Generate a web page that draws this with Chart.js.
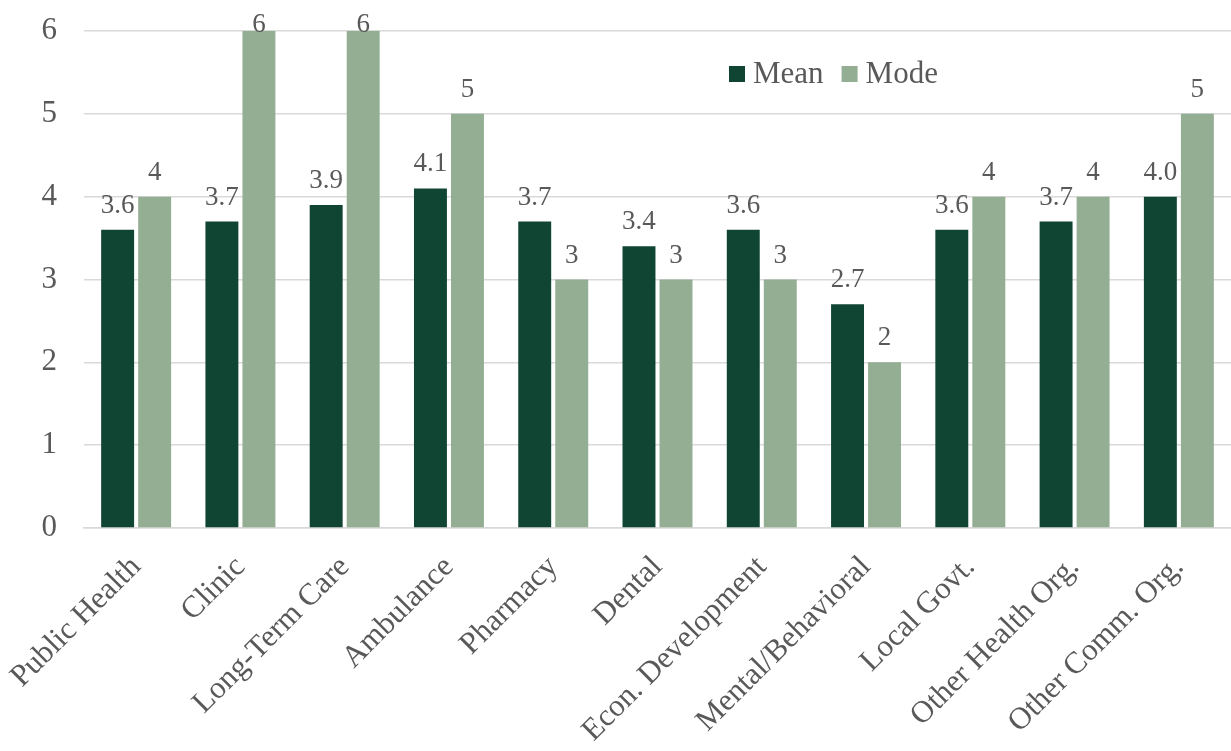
<!DOCTYPE html>
<html>
<head>
<meta charset="utf-8">
<script src="https://cdn.jsdelivr.net/npm/chart.js@4/dist/chart.umd.min.js"></script>
<style>
html,body{margin:0;padding:0;background:#fff;}
#wrap{width:1231px;height:751px;position:relative;}
</style>
</head>
<body>
<div id="wrap"><canvas id="c" width="1231" height="751"></canvas></div>
<script>
const categories = ["Public Health","Clinic","Long-Term Care","Ambulance","Pharmacy","Dental","Econ. Development","Mental/Behavioral","Local Govt.","Other Health Org.","Other Comm. Org."];
const meanValues = [3.6,3.7,3.9,4.1,3.7,3.4,3.6,2.7,3.6,3.7,4.0];
const modeValues = [4,6,6,5,3,3,3,2,4,4,5];
const yTicks = [0,1,2,3,4,5,6];

const FONT = "'Liberation Serif','Times New Roman',serif";
const TXT = '#595959';
const MEAN_C = '#104433';
const MODE_C = '#94ae93';

const labelPlugin = {
  id: 'valueLabels',
  afterDatasetsDraw(chart) {
    const ctx = chart.ctx;
    ctx.save();
    ctx.font = '27px ' + FONT;
    ctx.fillStyle = TXT;
    ctx.textAlign = 'center';
    ctx.textBaseline = 'alphabetic';
    chart.data.datasets.forEach((ds, di) => {
      const meta = chart.getDatasetMeta(di);
      meta.data.forEach((bar, i) => {
        const v = ds.data[i];
        const txt = di === 0 ? v.toFixed(1) : String(v);
        let y = bar.y - 17;
        if (y < 32) y = 32;
        ctx.fillText(txt, bar.x, y);
      });
    });
    ctx.restore();
  }
};

const legendPlugin = {
  id: 'customLegend',
  afterDraw(chart) {
    const ctx = chart.ctx;
    ctx.save();
    ctx.font = '31px ' + FONT;
    ctx.textBaseline = 'middle';
    ctx.textAlign = 'left';
    const items = chart.data.datasets.map(d => ({label: d.label, color: d.backgroundColor}));
    let x = 729;
    const y = 74;
    items.forEach(it => {
      ctx.fillStyle = it.color;
      ctx.fillRect(x, y - 8, 16, 16);
      ctx.fillStyle = TXT;
      ctx.fillText(it.label, x + 24, y + 1);
      x += 24 + ctx.measureText(it.label).width + 18;
    });
    ctx.restore();
  }
};

new Chart(document.getElementById('c'), {
  type: 'bar',
  data: {
    labels: categories,
    datasets: [
      {label: 'Mean', data: meanValues, backgroundColor: MEAN_C, categoryPercentage: 0.71, barPercentage: 0.89},
      {label: 'Mode', data: modeValues, backgroundColor: MODE_C, categoryPercentage: 0.71, barPercentage: 0.89}
    ]
  },
  options: {
    responsive: false,
    animation: false,
    layout: {padding: {top: 31, right: 0, left: 0, bottom: 0}},
    plugins: {legend: {display: false}, tooltip: {enabled: false}},
    scales: {
      x: {
        grid: {display: false, drawTicks: false},
        border: {display: true, color: '#d9d9d9', width: 1.5},
        ticks: {
          color: TXT, font: {family: FONT, size: 31},
          maxRotation: 45, minRotation: 45, padding: 21, autoSkip: false
        },
        afterFit(scale) { scale.height = 223; scale.paddingLeft = 0; scale.paddingRight = 0; }
      },
      y: {
        min: 0, max: 6,
        afterBuildTicks(scale) { scale.ticks = yTicks.map(v => ({value: v})); },
        grid: {color: '#d9d9d9', lineWidth: 1.5, drawTicks: false},
        border: {display: false},
        ticks: {color: TXT, font: {family: FONT, size: 31}, padding: 27},
        afterFit(scale) { scale.width = 84; scale.paddingTop = 0; scale.paddingBottom = 0; }
      }
    }
  },
  plugins: [labelPlugin, legendPlugin]
});
</script>
</body>
</html>
